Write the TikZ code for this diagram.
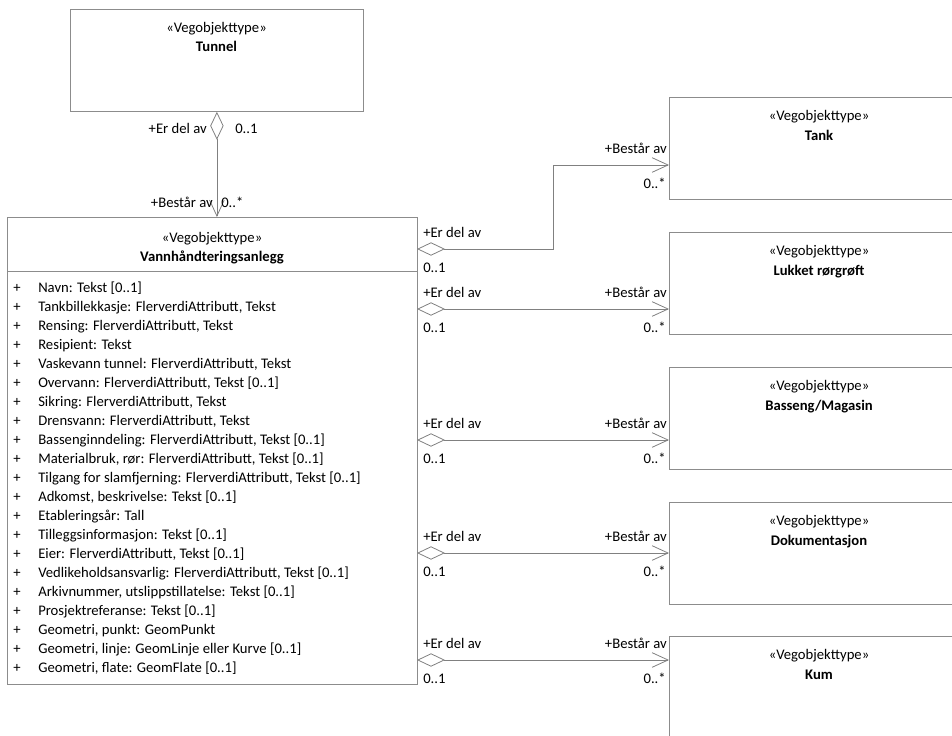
\documentclass[tikz,border=0pt]{standalone}
\usepackage{fontspec}
\setmainfont{Carlito}
\usetikzlibrary{arrows.meta}
\definecolor{umlline}{RGB}{128,128,128}
\definecolor{umlbox}{RGB}{140,140,140}

\begin{document}
\begin{tikzpicture}[x=0.75pt,y=-0.75pt,
  font=\fontsize{11pt}{13pt}\selectfont,
  every node/.style={inner sep=0pt},
  klasse/.style={draw=umlbox,line width=0.6pt,anchor=north west,minimum height=76.5pt},
  stereo/.style={anchor=base},
  navn/.style={anchor=base,font=\fontsize{11pt}{13pt}\selectfont\bfseries},
  venstre/.style={anchor=base west},
  hoyre/.style={anchor=base east},
  agg/.style={draw=umlline,line width=0.6pt,
    {Diamond[open,length=21pt,width=10pt]}-{Straight Barb[length=12pt,width=11pt]}}]
  \useasboundingbox (0,0) rectangle (952,735);

  % klasser
  \node[klasse,minimum width=219.75pt] (tunnel) at (70,9) {};
  \node[klasse,minimum width=307.5pt,minimum height=350.25pt] (vann) at (7,217) {};
  \node[klasse,minimum width=225pt] (tank) at (669,97) {};
  \node[klasse,minimum width=225pt] (lukket) at (669,232) {};
  \node[klasse,minimum width=225pt] (basseng) at (669,367) {};
  \node[klasse,minimum width=225pt] (dok) at (669,502) {};
  \node[klasse,minimum width=225pt] (kum) at (669,636) {};

  \node[stereo] (tunnelst) at (216.5,33) {«Vegobjekttype»};
  \node[navn] (tunnelnavn) at (216.5,52) {Tunnel};
  \node[stereo] (vannst) at (212,242) {«Vegobjekttype»};
  \node[navn] (vannnavn) at (212,261) {Vannhåndteringsanlegg};
  \draw[umlbox,line width=0.6pt] (vann.west |- 0,271) -- (vann.east |- 0,271);
  \node[stereo] (tankst) at (819,120) {«Vegobjekttype»};
  \node[navn] (tanknavn) at (819,140) {Tank};
  \node[stereo] (lukketst) at (819,255) {«Vegobjekttype»};
  \node[navn] (lukketnavn) at (819,275) {Lukket rørgrøft};
  \node[stereo] (bassengst) at (819,390) {«Vegobjekttype»};
  \node[navn] (bassengnavn) at (819,410) {Basseng/Magasin};
  \node[stereo] (dokst) at (819,525) {«Vegobjekttype»};
  \node[navn] (doknavn) at (819,545) {Dokumentasjon};
  \node[stereo] (kumst) at (819,659) {«Vegobjekttype»};
  \node[navn] (kumnavn) at (819,679) {Kum};

  % attributter
  \foreach \attr [count=\i from 0] in {
    {Navn: Tekst [0..1]},
    {Tankbillekkasje: FlerverdiAttributt, Tekst},
    {Rensing: FlerverdiAttributt, Tekst},
    {Resipient: Tekst},
    {Vaskevann tunnel: FlerverdiAttributt, Tekst},
    {Overvann: FlerverdiAttributt, Tekst [0..1]},
    {Sikring: FlerverdiAttributt, Tekst},
    {Drensvann: FlerverdiAttributt, Tekst},
    {Bassenginndeling: FlerverdiAttributt, Tekst [0..1]},
    {Materialbruk, rør: FlerverdiAttributt, Tekst [0..1]},
    {Tilgang for slamfjerning: FlerverdiAttributt, Tekst [0..1]},
    {Adkomst, beskrivelse: Tekst [0..1]},
    {Etableringsår: Tall},
    {Tilleggsinformasjon: Tekst [0..1]},
    {Eier: FlerverdiAttributt, Tekst [0..1]},
    {Vedlikeholdsansvarlig: FlerverdiAttributt, Tekst [0..1]},
    {Arkivnummer, utslippstillatelse: Tekst [0..1]},
    {Prosjektreferanse: Tekst [0..1]},
    {Geometri, punkt: GeomPunkt},
    {Geometri, linje: GeomLinje eller Kurve [0..1]},
    {Geometri, flate: GeomFlate [0..1]}} {
    \node[stereo] (p\i) at (17,{292+19*\i}) {+};
    \node[venstre] (a\i) at (38,{292+19*\i}) {\attr};
  }

  % tunnel - vannhåndteringsanlegg
  \draw[agg] (tunnel.south) -- (tunnel.south |- vann.north);
  \node[hoyre] (erdel0) at (207,133) {+Er del av};
  \node[venstre] (min0) at (235,133) {0..1};
  \node[hoyre] (bestar0) at (213,207) {+Består av};
  \node[venstre] (maks0) at (221,207) {0..*};

  % vannhåndteringsanlegg - delobjekter
  \coordinate (v1) at (417,249);
  \coordinate (t1) at (669,165);
  \coordinate (v2) at (417,309);
  \coordinate (v3) at (417,440);
  \coordinate (v4) at (417,553);
  \coordinate (v5) at (417,660);
  \draw[agg] (v1) -- (553,249) |- (t1);
  \draw[agg] (v2) -- (v2 -| lukket.west);
  \draw[agg] (v3) -- (v3 -| basseng.west);
  \draw[agg] (v4) -- (v4 -| dok.west);
  \draw[agg] (v5) -- (v5 -| kum.west);

  \node[venstre] (erdel1) at (423,237) {+Er del av};
  \node[venstre] (min1) at (423,272) {0..1};
  \node[hoyre] (bestar1) at (667,153) {+Består av};
  \node[hoyre] (maks1) at (666,188) {0..*};

  \node[venstre] (erdel2) at (423,297) {+Er del av};
  \node[venstre] (min2) at (423,332) {0..1};
  \node[hoyre] (bestar2) at (667,297) {+Består av};
  \node[hoyre] (maks2) at (666,332) {0..*};

  \node[venstre] (erdel3) at (423,428) {+Er del av};
  \node[venstre] (min3) at (423,463) {0..1};
  \node[hoyre] (bestar3) at (667,428) {+Består av};
  \node[hoyre] (maks3) at (666,463) {0..*};

  \node[venstre] (erdel4) at (423,541) {+Er del av};
  \node[venstre] (min4) at (423,576) {0..1};
  \node[hoyre] (bestar4) at (667,541) {+Består av};
  \node[hoyre] (maks4) at (666,576) {0..*};

  \node[venstre] (erdel5) at (423,648) {+Er del av};
  \node[venstre] (min5) at (423,683) {0..1};
  \node[hoyre] (bestar5) at (667,648) {+Består av};
  \node[hoyre] (maks5) at (666,683) {0..*};
\end{tikzpicture}
\end{document}
